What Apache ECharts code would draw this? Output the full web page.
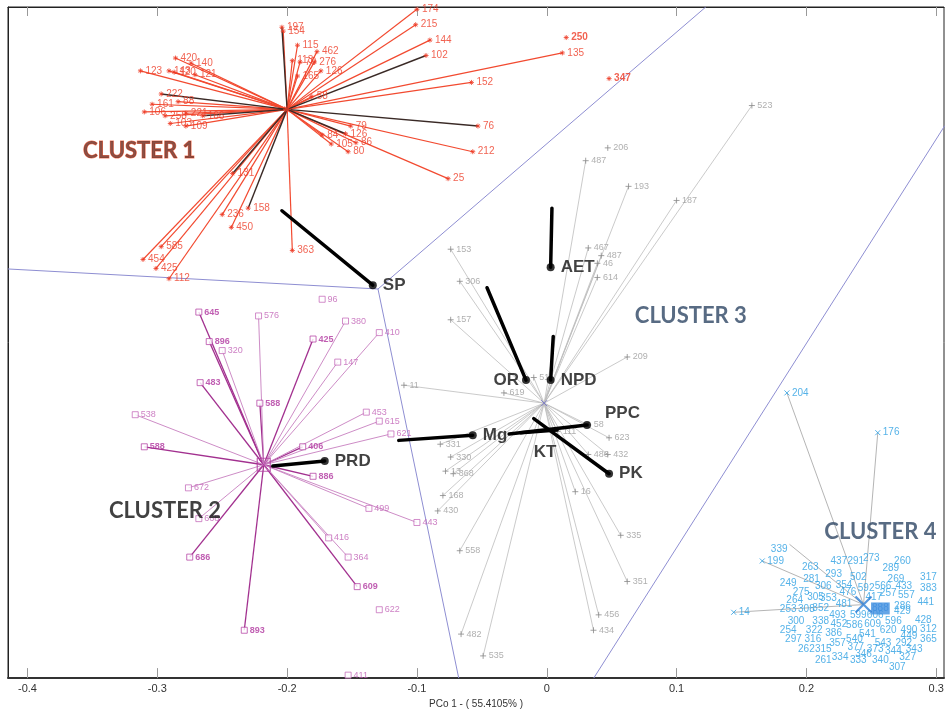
<!DOCTYPE html>
<html>
<head>
<meta charset="utf-8">
<script src="https://cdn.jsdelivr.net/npm/echarts@6/dist/echarts.min.js"></script>
<style>
  html, body { margin: 0; padding: 0; background: #fff; }
  #main { width: 947px; height: 714px; }
</style>
</head>
<body>
<div id="main"></div>
<script>
// axis
const xTicks = [-0.4, -0.3, -0.2, -0.1, 0, 0.1, 0.2, 0.3];
const xName = 'PCo 1 - ( 55.4105% )';

// cluster centroids
const c1Center = [-0.200, 0.223];
const c2Center = [-0.218, -0.054];
const c3Center = [-0.002, -0.006];
const c4Center = [0.244, -0.163];

// cluster 1 (red)
const c1Linked = [
  ['154', -0.203, 0.284], ['115', -0.192, 0.273], ['462', -0.177, 0.268], ['113', -0.196, 0.261],
  ['70', -0.190, 0.260], ['276', -0.179, 0.260], ['126', -0.174, 0.253], ['165', -0.192, 0.249],
  ['58', -0.181, 0.233], ['174', -0.100, 0.301], ['215', -0.101, 0.289], ['144', -0.090, 0.277],
  ['135', 0.012, 0.267], ['152', -0.058, 0.244], ['212', -0.057, 0.190], ['25', -0.076, 0.169],
  ['79', -0.151, 0.210], ['84', -0.173, 0.203], ['105', -0.166, 0.196], ['86', -0.147, 0.197],
  ['80', -0.153, 0.190], ['123', -0.313, 0.253], ['143', -0.291, 0.253], ['420', -0.286, 0.263],
  ['140', -0.274, 0.259], ['120', -0.287, 0.252], ['121', -0.271, 0.250], ['161', -0.304, 0.227],
  ['88', -0.284, 0.229], ['106', -0.310, 0.221], ['258', -0.294, 0.218], ['221', -0.278, 0.220],
  ['103', -0.290, 0.212], ['109', -0.278, 0.210], ['585', -0.297, 0.116], ['454', -0.311, 0.106],
  ['425', -0.301, 0.099], ['112', -0.291, 0.091], ['236', -0.250, 0.141], ['450', -0.243, 0.131],
  ['363', -0.196, 0.113]
];
const c1DarkLinked = [
  ['197', -0.204, 0.287], ['102', -0.093, 0.265], ['76', -0.053, 0.210], ['126', -0.155, 0.204],
  ['222', -0.297, 0.235], ['166', -0.265, 0.218], ['131', -0.242, 0.173], ['158', -0.230, 0.146]
];
const c1Free = [['250', 0.015, 0.279], ['347', 0.048, 0.247]];

// cluster 2 (purple)
const c2Strong = [
  ['645', -0.268, 0.065], ['896', -0.260, 0.042], ['483', -0.267, 0.010], ['588', -0.221, -0.006],
  ['588', -0.310, -0.040], ['425', -0.180, 0.044], ['406', -0.188, -0.040], ['886', -0.180, -0.063],
  ['686', -0.275, -0.126], ['893', -0.233, -0.183], ['609', -0.146, -0.149]
];
const c2Weak = [
  ['576', -0.222, 0.062], ['320', -0.250, 0.035], ['380', -0.155, 0.058], ['410', -0.129, 0.049],
  ['147', -0.161, 0.026], ['538', -0.317, -0.015], ['453', -0.139, -0.013], ['615', -0.129, -0.020],
  ['621', -0.120, -0.030], ['672', -0.276, -0.072], ['499', -0.137, -0.088], ['443', -0.100, -0.099],
  ['668', -0.268, -0.096], ['416', -0.168, -0.111], ['364', -0.153, -0.126]
];
const c2Free = [['96', -0.173, 0.075], ['622', -0.129, -0.167], ['411', -0.153, -0.218]];

// cluster 3 (grey)
const c3Linked = [
  ['487', 0.030, 0.183], ['193', 0.063, 0.163], ['523', 0.158, 0.226], ['187', 0.100, 0.152],
  ['467', 0.032, 0.115], ['487', 0.042, 0.109], ['46', 0.039, 0.103], ['614', 0.039, 0.092],
  ['153', -0.074, 0.114], ['306', -0.067, 0.089], ['157', -0.074, 0.059], ['209', 0.062, 0.030],
  ['51', -0.010, 0.014], ['619', -0.033, 0.002], ['11', -0.110, 0.008], ['58', 0.032, -0.023],
  ['623', 0.048, -0.033], ['486', 0.032, -0.046], ['432', 0.047, -0.046], ['331', -0.082, -0.038],
  ['330', -0.074, -0.048], ['13', -0.078, -0.059], ['368', -0.072, -0.061], ['168', -0.080, -0.078],
  ['430', -0.084, -0.090], ['558', -0.067, -0.121], ['482', -0.066, -0.186], ['535', -0.049, -0.203],
  ['16', 0.022, -0.075], ['335', 0.057, -0.109], ['351', 0.062, -0.145], ['456', 0.040, -0.171],
  ['434', 0.036, -0.183], ['111', 0.008, -0.028]
];
const c3Free = [['206', 0.047, 0.193]];

// cluster 4 (blue)
const c4Linked = [
  ['204', 0.185, 0.002], ['176', 0.255, -0.029], ['199', 0.166, -0.129], ['14', 0.144, -0.169],
  ['339', 0.187, -0.116]
];
const c4Labels = [
  ['437', 0.225, -0.129], ['291', 0.238, -0.129], ['273', 0.250, -0.127], ['260', 0.274, -0.129],
  ['263', 0.203, -0.134], ['293', 0.221, -0.139], ['289', 0.265, -0.135], ['249', 0.186, -0.146],
  ['281', 0.204, -0.143], ['502', 0.240, -0.142], ['269', 0.269, -0.143], ['317', 0.294, -0.142],
  ['306', 0.213, -0.149], ['354', 0.229, -0.148], ['592', 0.246, -0.150], ['566', 0.259, -0.149],
  ['433', 0.275, -0.149], ['383', 0.294, -0.150], ['275', 0.196, -0.153], ['476', 0.232, -0.153],
  ['257', 0.263, -0.154], ['305', 0.207, -0.157], ['353', 0.217, -0.158], ['417', 0.252, -0.157],
  ['557', 0.277, -0.156], ['264', 0.191, -0.160], ['481', 0.229, -0.163], ['441', 0.292, -0.161],
  ['286', 0.274, -0.164], ['253', 0.186, -0.167], ['308', 0.200, -0.167],
  ['352', 0.211, -0.166], ['493', 0.224, -0.171], ['599', 0.240, -0.171], ['606', 0.253, -0.171],
  ['429', 0.274, -0.168], ['300', 0.192, -0.176], ['338', 0.211, -0.176], ['452', 0.225, -0.178],
  ['586', 0.237, -0.179], ['609', 0.251, -0.178], ['596', 0.267, -0.176], ['428', 0.290, -0.175],
  ['254', 0.186, -0.183], ['322', 0.206, -0.183], ['386', 0.221, -0.185], ['541', 0.247, -0.186],
  ['620', 0.263, -0.183], ['490', 0.279, -0.183], ['312', 0.294, -0.182], ['297', 0.190, -0.190],
  ['316', 0.205, -0.190], ['540', 0.237, -0.190], ['449', 0.279, -0.188], ['365', 0.294, -0.190],
  ['357', 0.224, -0.193], ['377', 0.238, -0.196], ['543', 0.259, -0.193], ['292', 0.275, -0.193],
  ['262', 0.200, -0.198], ['315', 0.213, -0.198], ['373', 0.253, -0.198], ['344', 0.267, -0.199],
  ['343', 0.283, -0.198], ['346', 0.244, -0.202], ['261', 0.213, -0.206], ['334', 0.226, -0.204],
  ['333', 0.240, -0.206], ['340', 0.257, -0.206], ['327', 0.278, -0.204], ['307', 0.270, -0.212]
];
const c4Highlight = [['888', 0.257, -0.166]];

// environmental vectors
const envNames = ['SP', 'AET', 'OR', 'NPD', 'PPC', 'Mg', 'KT', 'PK', 'PRD'];
const envStart = [[-0.204, 0.144], [0.004, 0.146], [-0.046, 0.084], [0.005, 0.046], [-0.029, -0.030],
  [-0.114, -0.035], [-0.020, -0.029], [-0.010, -0.018], [-0.211, -0.055]];
const envEnd = [[-0.134, 0.086], [0.003, 0.100], [-0.016, 0.012], [0.003, 0.012], [0.031, -0.023],
  [-0.057, -0.031], [0.008, -0.027], [0.048, -0.061], [-0.171, -0.051]];

// cluster boundaries
const boundaries = [
  [[-0.415, 0.0986], [-0.130, 0.083]],
  [[-0.130, 0.083], [0.1225, 0.3028]],
  [[-0.130, 0.083], [-0.0678, -0.2203]],
  [[0.0362, -0.2203], [0.3066, 0.2103]]
];

// cluster titles
const titleNames = ['CLUSTER 1', 'CLUSTER 2', 'CLUSTER 3', 'CLUSTER 4'];
const titlePos = [[-0.314, 0.191], [-0.294, -0.090], [0.111, 0.062], [0.257, -0.106]];

const RED = '#ee3b26', PURPLE = '#b0369f', GREY = '#9b9b9b', BLUE = '#2a9fe2';
const STAR = 'path://M0,5L10,5M5,0L5,10M1.5,1.5L8.5,8.5M8.5,1.5L1.5,8.5';
const PLUS = 'path://M0,5L10,5M5,0L5,10';
const CROSS = 'path://M0,0L10,10M10,0L0,10';
const FONT = 'Liberation Sans, Arial, sans-serif';

function toPoints(arr) {
  return arr.map(p => ({ name: p[0], value: [p[1], p[2]] }));
}
function linkSeries(center, arr, color, width, z) {
  return {
    type: 'lines', coordinateSystem: 'cartesian2d', silent: true, z: z,
    data: arr.map(p => ({ coords: [center, [p[1], p[2]]] })),
    lineStyle: { color: color, width: width, opacity: 1 }
  };
}
function pointSeries(arr, symbol, size, color, labelColor, fontSize, weight, strokeOnly) {
  return {
    type: 'scatter', z: 6, silent: true,
    symbol: symbol, symbolSize: size,
    itemStyle: strokeOnly
      ? { color: 'rgba(0,0,0,0)', borderColor: color, borderWidth: 1 }
      : { color: '#fff', borderColor: color, borderWidth: 0.9 },
    label: {
      show: true, position: 'right', distance: 2, formatter: '{b}',
      color: labelColor, fontSize: fontSize, fontWeight: weight || 'normal', fontFamily: FONT
    },
    data: toPoints(arr)
  };
}

const chart = echarts.init(document.getElementById('main'));

const series = [
  {
    type: 'lines', coordinateSystem: 'cartesian2d', silent: true, z: 1,
    data: boundaries.map(b => ({ coords: b })),
    lineStyle: { color: '#8e8ed2', width: 1, opacity: 1 }
  },
  linkSeries(c1Center, c1Linked, '#f24a30', 1.2, 2),
  linkSeries(c1Center, c1DarkLinked, '#3a2a26', 1.4, 2),
  linkSeries(c2Center, c2Strong, '#a2308f', 1.3, 2),
  linkSeries(c2Center, c2Weak, '#c77fc0', 0.9, 2),
  linkSeries(c3Center, c3Linked, '#bdbdbd', 0.8, 2),
  linkSeries(c4Center, c4Linked, '#b5b5b5', 1, 2),
  pointSeries(c1Linked, STAR, 5, RED, RED, 10, 'normal', true),
  pointSeries(c1DarkLinked, STAR, 5, RED, RED, 10, 'normal', true),
  pointSeries(c1Free, STAR, 5, RED, RED, 10, 'bold', true),
  pointSeries(c2Strong, 'rect', 6, PURPLE, PURPLE, 9, 'bold', false),
  pointSeries(c2Weak, 'rect', 6, '#c060b5', '#c060b5', 9, 'normal', false),
  pointSeries(c2Free, 'rect', 6, '#c060b5', '#c060b5', 9, 'normal', false),
  pointSeries(c3Linked, PLUS, 6, '#8a8a8a', GREY, 9, 'normal', true),
  pointSeries(c3Free, PLUS, 6, '#8a8a8a', GREY, 9, 'normal', true),
  (function () {
    const s = pointSeries(c4Linked, CROSS, 5, BLUE, BLUE, 10, 'normal', true);
    s.data = s.data.map(d => d.name === '339'
      ? Object.assign(d, { symbolSize: 0, label: { position: 'left', offset: [0, 5] } }) : d);
    return s;
  })(),
  {
    type: 'scatter', z: 6, silent: true, symbolSize: 0,
    label: { show: true, position: 'inside', formatter: '{b}', color: BLUE, fontSize: 10, fontFamily: FONT },
    data: toPoints(c4Labels)
  },
  {
    type: 'scatter', z: 7, silent: true, symbolSize: 0,
    label: {
      show: true, position: 'inside', formatter: '{b}', color: '#3f8fe0', fontSize: 10, fontFamily: FONT,
      backgroundColor: '#3f8fe0', padding: [1, 1]
    },
    data: toPoints(c4Highlight)
  },
  // centroids
  {
    type: 'scatter', z: 8, silent: true,
    data: [
      { value: c2Center, symbol: 'rect', symbolSize: 13, itemStyle: { color: 'rgba(0,0,0,0)', borderColor: PURPLE, borderWidth: 1.2 } },
      { value: c2Center, symbol: CROSS, symbolSize: 9, itemStyle: { color: 'rgba(0,0,0,0)', borderColor: PURPLE, borderWidth: 1 } },
      { value: c3Center, symbol: CROSS, symbolSize: 6, itemStyle: { color: 'rgba(0,0,0,0)', borderColor: '#6b6bc8', borderWidth: 1 } },
      { value: c4Center, symbol: CROSS, symbolSize: 16, itemStyle: { color: 'rgba(0,0,0,0)', borderColor: '#2f7fd6', borderWidth: 2.2 } },
      { value: c1Center, symbol: STAR, symbolSize: 8, itemStyle: { color: 'rgba(0,0,0,0)', borderColor: RED, borderWidth: 1.2 } }
    ]
  },
  // environmental vectors
  {
    type: 'lines', coordinateSystem: 'cartesian2d', silent: true, z: 9,
    data: envNames.map((n, i) => ({ coords: [envStart[i], envEnd[i]] })),
    lineStyle: { color: '#000', width: 3.5, opacity: 1, cap: 'round' }
  },
  {
    type: 'scatter', z: 10, silent: true, symbol: 'circle', symbolSize: 8,
    itemStyle: { color: '#000' },
    label: {
      show: true, position: 'right', distance: 6, formatter: '{b}',
      color: '#111', fontSize: 17, fontWeight: 'bold', fontFamily: FONT
    },
    data: envNames.map((n, i) => {
      const d = { name: n, value: envEnd[i] };
      if (n === 'OR') d.label = { position: 'left', distance: 3 };
      if (n === 'KT') { d.symbolSize = 0; d.label = { position: 'bottom', distance: 4, offset: [-12, 10] }; }
      if (n === 'PPC') d.label = { position: 'right', distance: 14, offset: [0, -12] };
      return d;
    })
  },
  // cluster titles
  {
    type: 'scatter', z: 11, silent: true, symbolSize: 0,
    label: { show: true, position: 'inside', formatter: '{b}', fontSize: 22, fontWeight: 'bold', fontFamily: 'Lato, Open Sans, sans-serif' },
    data: titleNames.map((n, i) => {
      const colors = ['#6e2418', '#111111', '#2e4664', '#2e4664'];
      const d = { name: n, value: titlePos[i], label: { color: colors[i] } };
      if (i === 0) { d.label.textBorderColor = '#f0603f'; d.label.textBorderWidth = 1; }
      return d;
    })
  }
];

const option = {
  animation: false,
  backgroundColor: '#fff',
  grid: { left: 8, right: 3, top: 7, bottom: 28, show: true, borderColor: '#222', borderWidth: 1 },
  xAxis: [
    {
      type: 'value', min: -0.415, max: 0.306, position: 'bottom',
      name: xName, nameLocation: 'middle', nameGap: 20,
      nameTextStyle: { fontSize: 10, color: '#333', fontFamily: FONT },
      axisLine: { show: true, onZero: false, lineStyle: { color: '#333', width: 2 } },
      axisTick: { show: true, inside: true, length: 10, customValues: xTicks, lineStyle: { color: '#999' } },
      axisLabel: {
        show: true, customValues: xTicks, fontSize: 11, color: '#333', margin: 5, fontFamily: FONT,
        formatter: v => (Math.abs(v) < 1e-9 ? '0' : v.toFixed(1))
      },
      splitLine: { show: false }
    },
    {
      type: 'value', min: -0.415, max: 0.306, position: 'top',
      axisLine: { show: true, onZero: false, lineStyle: { color: '#222', width: 1 } },
      axisTick: { show: true, inside: true, length: 9, customValues: xTicks, lineStyle: { color: '#999' } },
      axisLabel: { show: false },
      splitLine: { show: false }
    }
  ],
  yAxis: {
    type: 'value', min: -0.2203, max: 0.3028,
    axisLine: { show: true, onZero: false, lineStyle: { color: '#222', width: 1 } },
    axisTick: { show: false }, axisLabel: { show: false }, splitLine: { show: false }
  },
  series: series
};

chart.setOption(option);
</script>
</body>
</html>
